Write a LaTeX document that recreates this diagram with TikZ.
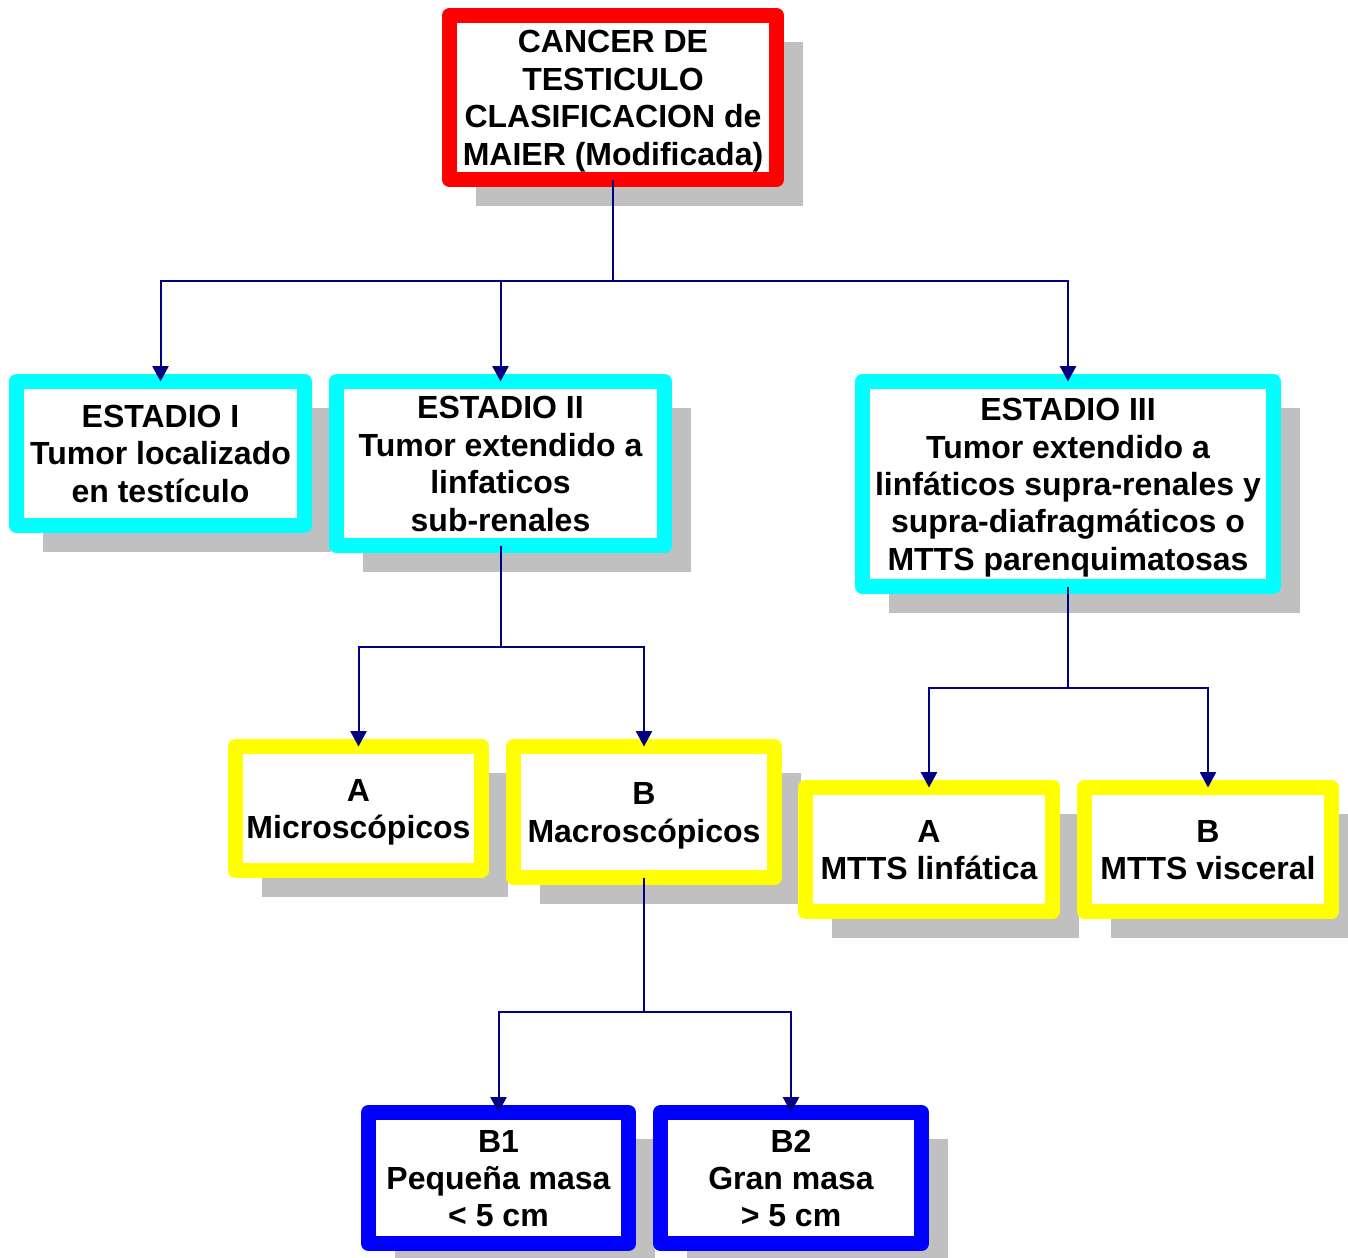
\documentclass[tikz,border=0pt]{standalone}
\usepackage{fontspec}
\setmainfont{Liberation Sans}
\usetikzlibrary{arrows.meta,shadows}
\definecolor{boxred}{HTML}{FF0000}
\definecolor{boxcyan}{HTML}{00FFFF}
\definecolor{boxyellow}{HTML}{FFFF00}
\definecolor{boxblue}{HTML}{0000FF}
\definecolor{connnavy}{HTML}{000080}
\definecolor{shgray}{HTML}{C0C0C0}
\newcommand\zz{\rule[-5.4pt]{0pt}{28pt}}
\begin{document}
\begin{tikzpicture}[x=0.75pt,y=-0.75pt,
  bx/.style n args={3}{draw=#1, fill=white, line width=11.25pt, line join=round,
     inner sep=0pt, outer sep=0pt, align=center,
     minimum width=#2*0.75pt, minimum height=#3*0.75pt,
     font=\bfseries\fontsize{24pt}{28.1pt}\selectfont,
     drop shadow={shadow xshift=19.5pt, shadow yshift=-19.5pt, fill=shgray, opacity=1}},
  conn/.style={draw=connnavy, line width=1.5pt},
  arr/.style={conn, -{Triangle[width=12pt,length=11.5pt]}}]
\useasboundingbox (0,0) rectangle (1348,1257);

\node[bx={boxred}{327}{164}] (title) at (613,97.5)
  {\zz CANCER DE\\\zz TESTICULO\\\zz CLASIFICACION de\\\zz MAIER (Modificada)};
\node[bx={boxcyan}{288}{144}] (e1) at (160.5,453.5)
  {\zz ESTADIO I\\\zz Tumor localizado\\\zz en testículo};
\node[bx={boxcyan}{328}{164}] (e2) at (500.5,463.5)
  {\zz ESTADIO II\\\zz Tumor extendido a\\\zz linfaticos\\\zz sub-renales};
\node[bx={boxcyan}{411}{205}] (e3) at (1068,484)
  {\zz ESTADIO III\\\zz Tumor extendido a\\\zz linfáticos supra-renales y\\\zz supra-diafragmáticos o\\\zz MTTS parenquimatosas};
\node[bx={boxyellow}{246}{124}] (a2) at (358.5,808.5)
  {\zz A\\\zz Microscópicos};
\node[bx={boxyellow}{261}{131}] (b2) at (644,812)
  {\zz B\\\zz Macroscópicos};
\node[bx={boxyellow}{247}{124}] (a3) at (929,849.5)
  {\zz A\\\zz MTTS linfática};
\node[bx={boxyellow}{247}{124}] (b3) at (1208,849.5)
  {\zz B\\\zz MTTS visceral};
\node[bx={boxblue}{260}{131}] (b21) at (498.5,1178)
  {\zz B1\\\zz Pequeña masa\\\zz < 5 cm};
\node[bx={boxblue}{261}{131}] (b22) at (791,1178)
  {\zz B2\\\zz Gran masa\\\zz > 5 cm};

\coordinate (j1) at (613,280.5);
\coordinate (j2) at (500.5,647);
\coordinate (j3) at (1068,687.5);
\coordinate (j4) at (644,1012);

\draw[conn] (title.south) -- (j1);
\draw[arr] (j1) -| (e1.north);
\draw[arr] (j1) -| (e2.north);
\draw[arr] (j1) -| (e3.north);

\draw[conn] (e2.south) -- (j2);
\draw[arr] (j2) -| (a2.north);
\draw[arr] (j2) -| (b2.north);

\draw[conn] (e3.south) -- (j3);
\draw[arr] (j3) -| (a3.north);
\draw[arr] (j3) -| (b3.north);

\draw[conn] (b2.south) -- (j4);
\draw[arr] (j4) -| (b21.north);
\draw[arr] (j4) -| (b22.north);
\end{tikzpicture}
\end{document}
